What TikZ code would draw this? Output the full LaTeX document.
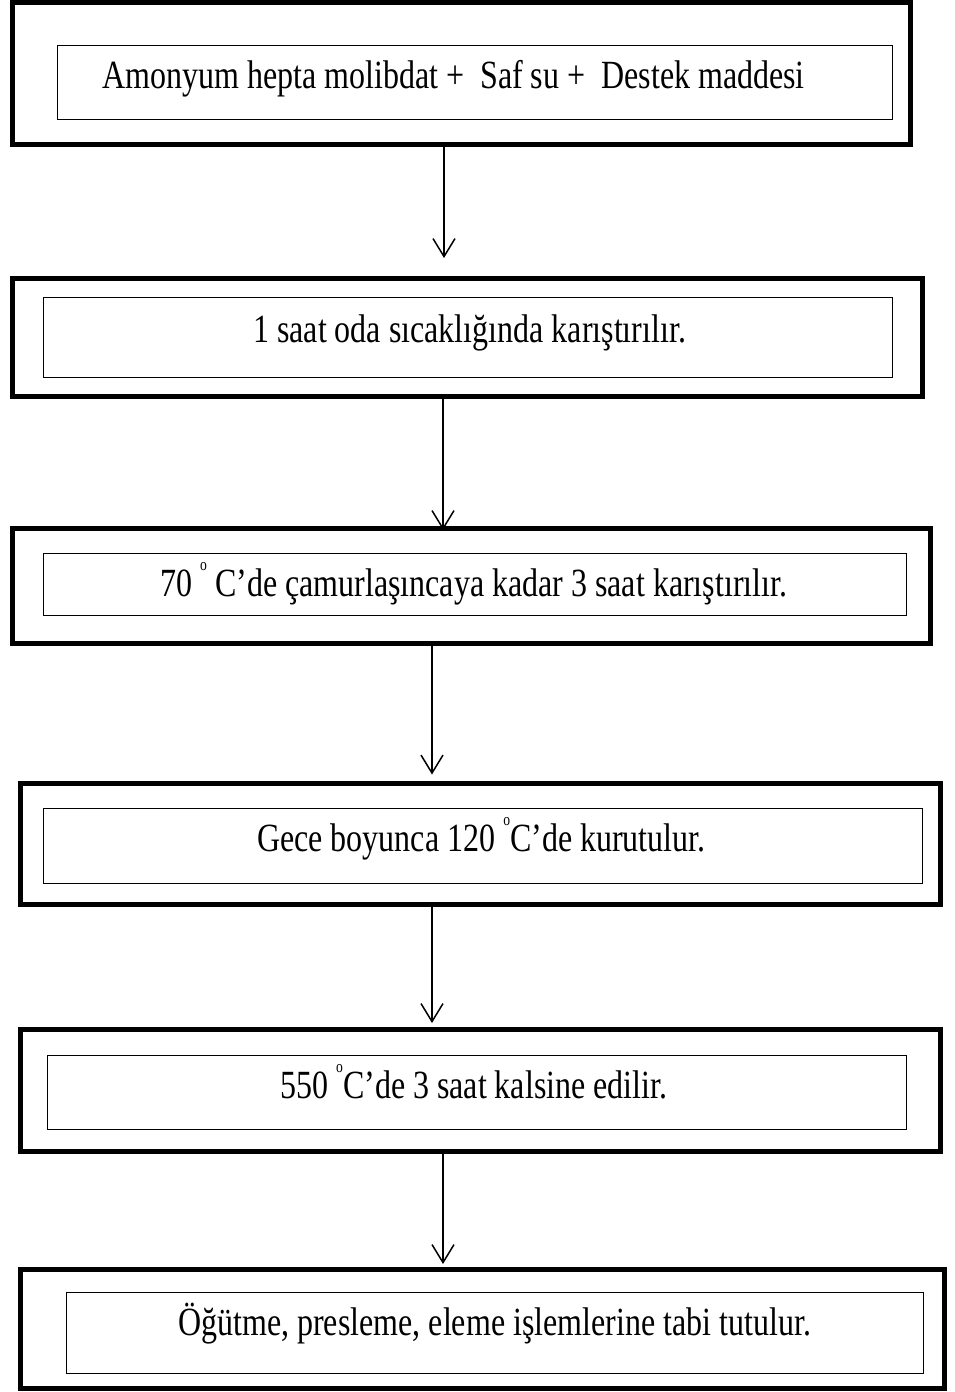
\documentclass[tikz,border=0pt]{standalone}
\usepackage{fontspec}
\setmainfont{Liberation Serif}[FakeStretch=0.8]
\usetikzlibrary{arrows.meta}
\tikzset{
  outerbox/.style={draw, line width=5pt, rectangle, inner sep=0pt},
  innerbox/.style={draw, line width=1pt, rectangle, inner sep=0pt},
  label/.style={anchor=base west, inner sep=0pt, font=\fontsize{40}{48}\selectfont},
  arr/.style={line width=1.5pt, -{Straight Barb[length=18pt,width=22pt,line width=1.5pt]}}
}
\newcommand{\dg}{\raisebox{26pt}{\fontsize{17}{17}\selectfont o}}
\begin{document}
\begin{tikzpicture}[x=1pt,y=-1pt]
\useasboundingbox (0,0) rectangle (954,1392);
% box 1
\node[outerbox, minimum width=898pt, minimum height=142pt] (o1) at (461,73) {};
\node[innerbox, minimum width=835pt, minimum height=74pt] (i1) at (475,82) {};
\node[label] (t1) at (102,88) {Amonyum hepta molibdat +\ \ Saf su +\ \ Destek maddesi};
% box 2
\node[outerbox, minimum width=910pt, minimum height=118pt] (o2) at (467,337) {};
\node[innerbox, minimum width=849pt, minimum height=80pt] (i2) at (467.5,337) {};
\node[label] (t2) at (253,342) {1 saat oda sıcaklığında karıştırılır.};
% box 3
\node[outerbox, minimum width=918pt, minimum height=115pt] (o3) at (471,585.5) {};
\node[innerbox, minimum width=863pt, minimum height=62pt] (i3) at (474.5,584) {};
\node[label] (t3) at (160,596) {70 \dg\ C’de çamurlaşıncaya kadar 3 saat karıştırılır.};
% box 4
\node[outerbox, minimum width=920pt, minimum height=121pt] (o4) at (480.5,844) {};
\node[innerbox, minimum width=879pt, minimum height=75pt] (i4) at (482.5,845.5) {};
\node[label] (t4) at (257,851) {Gece boyunca 120 \dg C’de kurutulur.};
% box 5
\node[outerbox, minimum width=920pt, minimum height=122pt] (o5) at (480.5,1090) {};
\node[innerbox, minimum width=859pt, minimum height=74pt] (i5) at (476.5,1092.5) {};
\node[label] (t5) at (280,1098) {550 \dg C’de 3 saat kalsine edilir.};
% box 6
\node[outerbox, minimum width=924pt, minimum height=119pt] (o6) at (482,1328.5) {};
\node[innerbox, minimum width=857pt, minimum height=81pt] (i6) at (495,1333) {};
\node[label] (t6) at (178,1335) {Öğütme, presleme, eleme işlemlerine tabi tutulur.};
% arrows
\coordinate (c1) at (444,0);
\coordinate (c2) at (443,0);
\coordinate (c3) at (432,0);
\coordinate (c4) at (432,0);
\coordinate (c5) at (443,0);
\draw[arr, shorten >=17.5pt] (o1.south -| c1) -- (o2.north -| c1);
\draw[arr, shorten >=-4.5pt] (o2.south -| c2) -- (o3.north -| c2);
\draw[arr, shorten >=6.5pt] (o3.south -| c3) -- (o4.north -| c3);
\draw[arr, shorten >=3.5pt] (o4.south -| c4) -- (o5.north -| c4);
\draw[arr, shorten >=2.5pt] (o5.south -| c5) -- (o6.north -| c5);
\end{tikzpicture}
\end{document}
